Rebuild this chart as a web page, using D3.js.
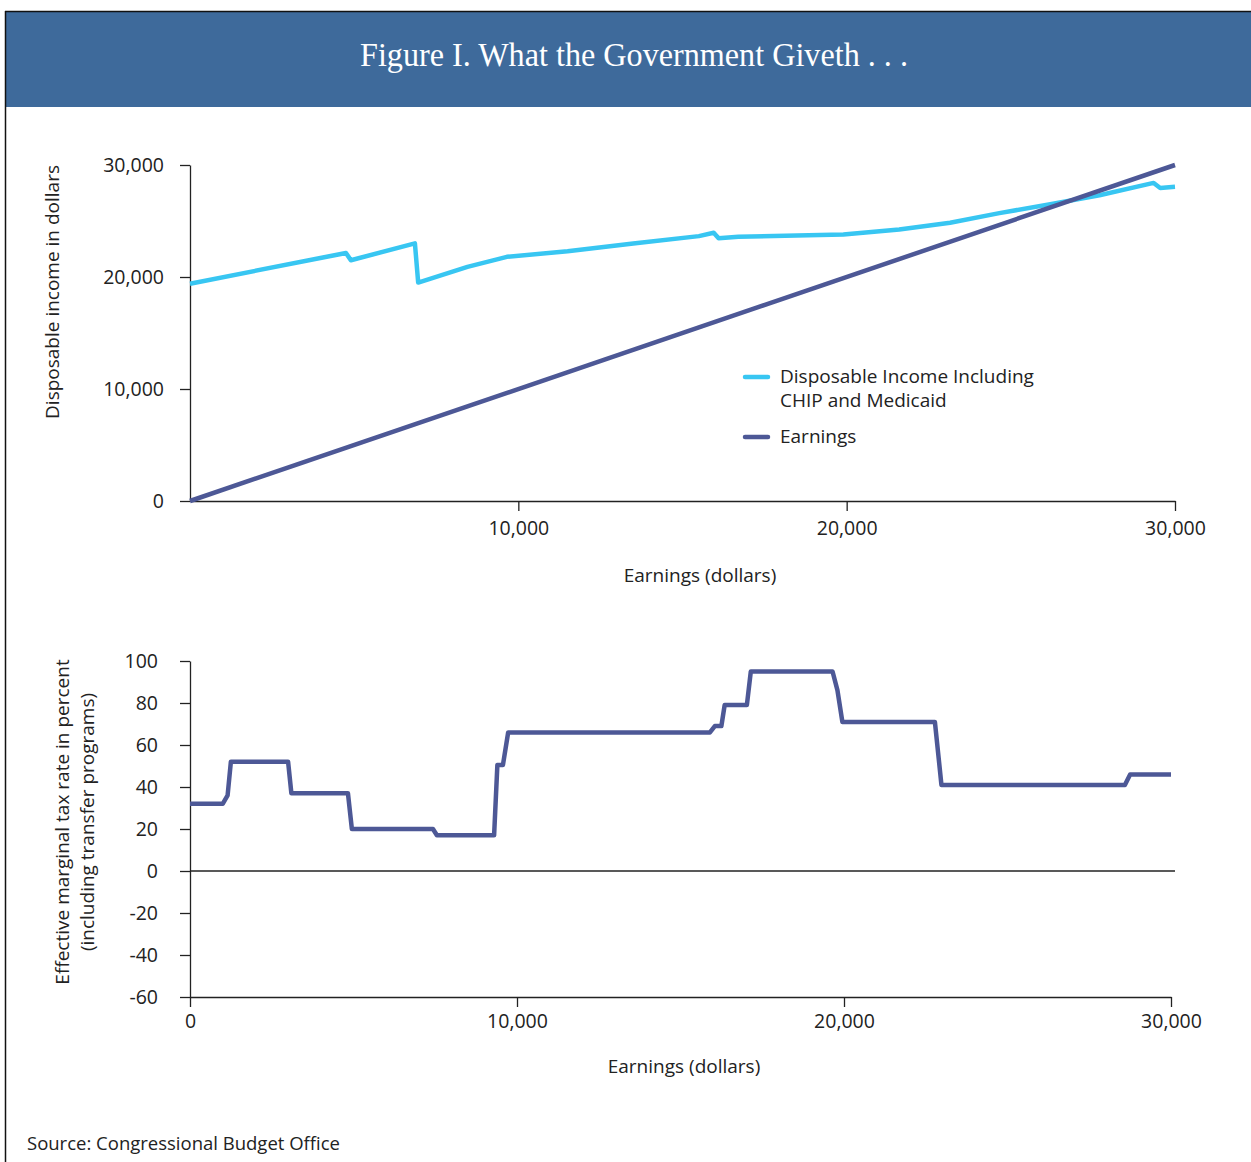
<!DOCTYPE html>
<html>
<head>
<meta charset="utf-8">
<script src="https://cdn.jsdelivr.net/npm/d3@7"></script>
<style>
  body { margin: 0; background: #fff; }
  text { font-family: "Open Sans", "Noto Sans", sans-serif; fill: #222; }
</style>
</head>
<body>
<div id="chart-area"></div>
<script>
// top panel: disposable income vs earnings
const incomeEarnings = [0, 4750, 4900, 6850, 6950, 8450, 9650, 11500, 13500, 15500, 15950, 16100, 16700, 19900, 21600, 23150, 24650, 26200, 27700, 29350, 29550, 30000]
const incomeValues   = [19400, 22150, 21500, 23000, 19500, 20900, 21800, 22300, 23000, 23650, 23950, 23450, 23600, 23800, 24250, 24850, 25700, 26500, 27300, 28400, 27950, 28050]
const earningsLine   = [0, 30000]

// bottom panel: effective marginal tax rate
const rateEarnings = [0, 1000, 1150, 1250, 3000, 3100, 4830, 4950, 7430, 7550, 9300, 9400, 9570, 9730, 15900, 16050, 16250, 16350, 17030, 17150, 19650, 19800, 19950, 22780, 22980, 28590, 28750, 30000]
const rateValues   = [32, 32, 36, 52, 52, 37, 37, 20, 20, 17, 17, 50.5, 50.5, 66, 66, 69, 69, 79, 79, 95, 95, 86, 71, 71, 41, 41, 46, 46]

const topYTicks = [0, 10000, 20000, 30000]
const topXTicks = [10000, 20000, 30000]
const botYTicks = [100, 80, 60, 40, 20, 0, -20, -40, -60]
const botXTicks = [0, 10000, 20000, 30000]

const lightBlue = "#38c6f2"
const darkBlue = "#4d5896"
const fmt = d3.format(",")

const svg = d3.select("#chart-area").append("svg")
    .attr("width", 1251)
    .attr("height", 1162)

// frame + header
svg.append("rect").attr("x", 5).attr("y", 11).attr("width", 1246).attr("height", 96).attr("fill", "#3e6a9b")
svg.append("line").attr("x1", 5).attr("x2", 1251).attr("y1", 11.5).attr("y2", 11.5).attr("stroke", "#111").attr("stroke-width", 1.5)
svg.append("line").attr("x1", 5.5).attr("x2", 5.5).attr("y1", 11).attr("y2", 1162).attr("stroke", "#111").attr("stroke-width", 1.5)

svg.append("text")
    .attr("x", 634).attr("y", 66)
    .attr("text-anchor", "middle")
    .attr("textLength", 548)
    .attr("lengthAdjust", "spacingAndGlyphs")
    .style("font-family", "'Liberation Serif', serif")
    .style("font-size", "34px")
    .style("fill", "#fff")
    .text("Figure I. What the Government Giveth . . .")

// ---- top chart ----
const x1 = d3.scaleLinear().domain([0, 30000]).range([190, 1175])
const y1 = d3.scaleLinear().domain([0, 30000]).range([501, 165])

const upper = svg.append("g")

upper.append("g")
    .attr("transform", "translate(190,0)")
    .call(d3.axisLeft(y1).tickValues(topYTicks).tickFormat(fmt).tickSize(10).tickSizeOuter(0).tickPadding(16))
    .call(g => g.selectAll("text").style("font-size", "19.5px").attr("fill", "#222"))

upper.append("g")
    .attr("transform", "translate(0,501)")
    .call(d3.axisBottom(x1).tickValues(topXTicks).tickFormat(fmt).tickSize(10).tickSizeOuter(0).tickPadding(10))
    .call(g => g.selectAll("text").style("font-size", "19.5px").attr("fill", "#222"))

upper.selectAll(".domain, .tick line").attr("stroke", "#222").attr("stroke-width", 1.3)

const line1 = d3.line().x(d => x1(d[0])).y(d => y1(d[1]))

upper.append("path")
    .datum(incomeEarnings.map((e, i) => [e, incomeValues[i]]))
    .attr("d", line1)
    .attr("fill", "none").attr("stroke", lightBlue).attr("stroke-width", 4.5).attr("stroke-linejoin", "round")

upper.append("path")
    .datum(earningsLine.map(e => [e, e]))
    .attr("d", line1)
    .attr("fill", "none").attr("stroke", darkBlue).attr("stroke-width", 4.5)

upper.append("text")
    .attr("transform", "translate(59,292) rotate(-90)")
    .attr("text-anchor", "middle")
    .style("font-size", "19px")
    .text("Disposable income in dollars")

upper.append("text")
    .attr("x", 700).attr("y", 582)
    .attr("text-anchor", "middle")
    .style("font-size", "19px")
    .text("Earnings (dollars)")

// legend
const legend = upper.append("g")
legend.append("line").attr("x1", 745).attr("x2", 768).attr("y1", 377).attr("y2", 377)
    .attr("stroke", lightBlue).attr("stroke-width", 4.5).attr("stroke-linecap", "round")
legend.append("text").attr("x", 780).attr("y", 383).style("font-size", "19px").text("Disposable Income Including")
legend.append("text").attr("x", 780).attr("y", 407).style("font-size", "19px").text("CHIP and Medicaid")
legend.append("line").attr("x1", 745).attr("x2", 768).attr("y1", 437).attr("y2", 437)
    .attr("stroke", darkBlue).attr("stroke-width", 4.5).attr("stroke-linecap", "round")
legend.append("text").attr("x", 780).attr("y", 443).style("font-size", "19px").text("Earnings")

// ---- bottom chart ----
const x2 = d3.scaleLinear().domain([0, 30000]).range([190, 1171])
const y2 = d3.scaleLinear().domain([-60, 100]).range([997, 661])

const lower = svg.append("g")

lower.append("g")
    .attr("transform", "translate(190,0)")
    .call(d3.axisLeft(y2).tickValues(botYTicks).tickFormat(d => String(d)).tickSize(10).tickSizeOuter(0).tickPadding(22))
    .call(g => g.selectAll("text").style("font-size", "19.5px").attr("fill", "#222"))

lower.append("g")
    .attr("transform", "translate(0,997)")
    .call(d3.axisBottom(x2).tickValues(botXTicks).tickFormat(fmt).tickSize(10).tickSizeOuter(0).tickPadding(7))
    .call(g => g.selectAll("text").style("font-size", "19.5px").attr("fill", "#222"))

lower.selectAll(".domain, .tick line").attr("stroke", "#222").attr("stroke-width", 1.3)

// zero line
lower.append("line")
    .attr("x1", 190).attr("x2", 1175)
    .attr("y1", y2(0)).attr("y2", y2(0))
    .attr("stroke", "#222").attr("stroke-width", 1.3)

const line2 = d3.line().x(d => x2(d[0])).y(d => y2(d[1]))

lower.append("path")
    .datum(rateEarnings.map((e, i) => [e, rateValues[i]]))
    .attr("d", line2)
    .attr("fill", "none").attr("stroke", darkBlue).attr("stroke-width", 4.5).attr("stroke-linejoin", "round")

lower.append("text")
    .attr("transform", "translate(69,822) rotate(-90)")
    .attr("text-anchor", "middle")
    .style("font-size", "19px")
    .text("Effective marginal tax rate in percent")
lower.append("text")
    .attr("transform", "translate(94,822) rotate(-90)")
    .attr("text-anchor", "middle")
    .style("font-size", "19px")
    .text("(including transfer programs)")

lower.append("text")
    .attr("x", 684).attr("y", 1073)
    .attr("text-anchor", "middle")
    .style("font-size", "19px")
    .text("Earnings (dollars)")

svg.append("text")
    .attr("x", 27).attr("y", 1150)
    .style("font-size", "18.5px")
    .text("Source: Congressional Budget Office")
</script>
</body>
</html>
